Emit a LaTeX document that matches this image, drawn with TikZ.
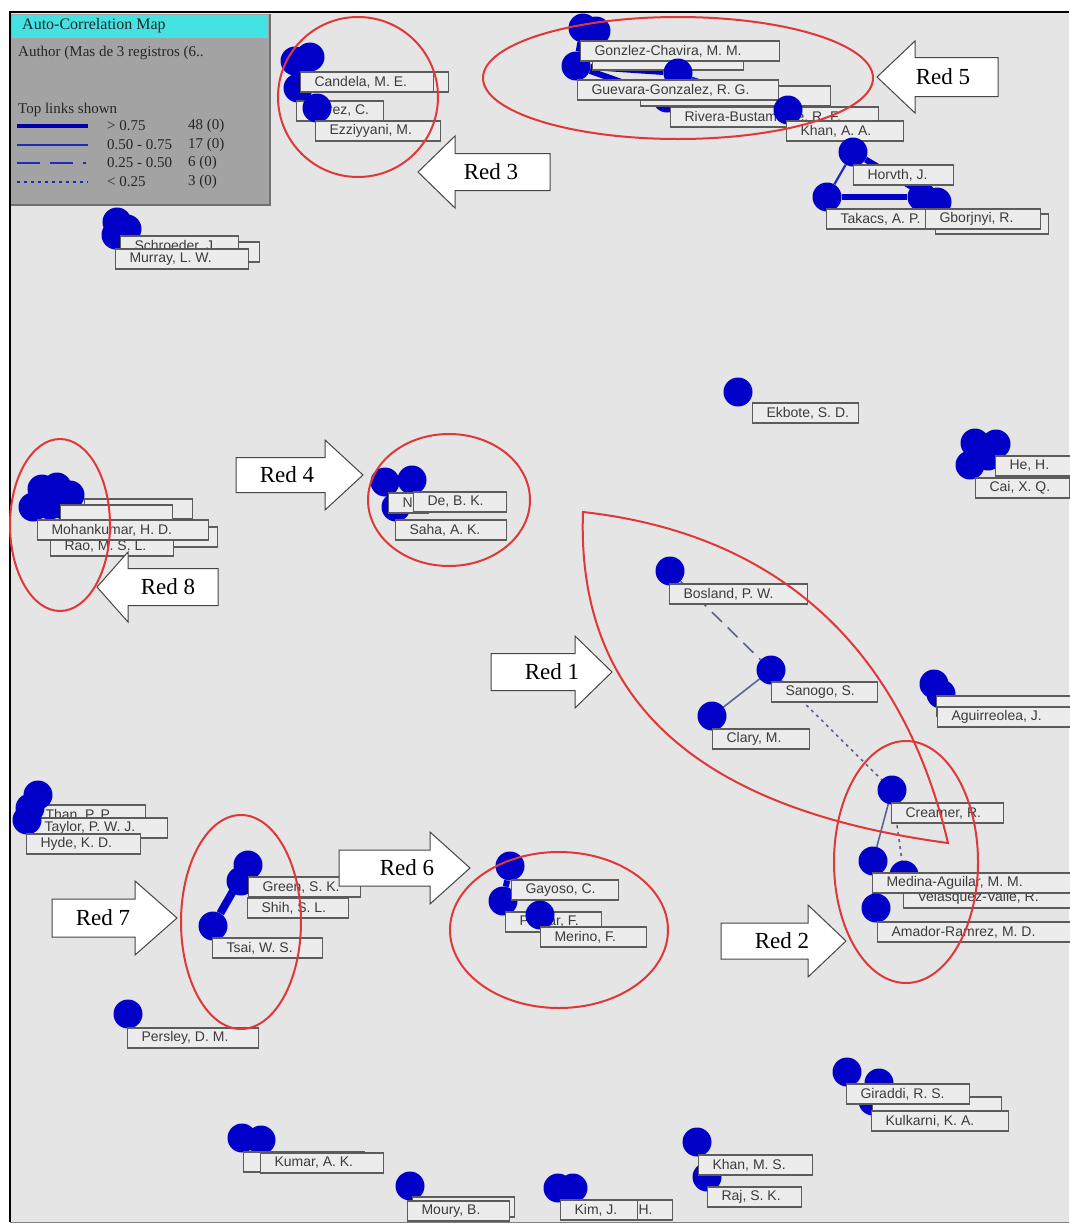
\documentclass[tikz,border=0pt]{standalone}
\usepackage{fontspec}
\setmainfont{Liberation Serif}
\newfontfamily\labsans{Liberation Sans}
\usetikzlibrary{calc}
\pgfdeclarelayer{bg}
\pgfdeclarelayer{links}
\pgfsetlayers{bg,links,main}

\definecolor{plotbg}{HTML}{E5E5E5}
\definecolor{boxfill}{HTML}{ECECEC}
\definecolor{boxgray}{HTML}{5C5C5C}
\definecolor{labtext}{HTML}{3C3C3C}
\definecolor{nodeblue}{HTML}{0000C8}
\definecolor{linkblue}{HTML}{1E2EB4}
\definecolor{weaklink}{HTML}{5A6490}
\definecolor{redline}{HTML}{E03838}
\definecolor{legendgray}{HTML}{A3A3A3}
\definecolor{legendedge}{HTML}{707070}
\definecolor{titlecyan}{HTML}{44E2E2}
\definecolor{arrowedge}{HTML}{454545}

% author label box: left edge, vertical centre, width, text
\newcommand\lbl[5]{\node[lab,minimum width=#4pt] (#1) at (#2,#3) {\makebox[#4pt][l]{\hspace{14pt}#5}};}
% author node
\newcommand\dotn[3]{\node[bnode] (#1) at (#2,#3) {};}
% block arrow: name, far end x, head base x, tip x, centre y, half body, half head, text x, text
\newcommand\blockarrow[9]{%
  \draw[blockarr] ({#2},{#5-#6}) -- ({#3},{#5-#6}) -- ({#3},{#5-#7}) -- ({#4},{#5})
    -- ({#3},{#5+#7}) -- ({#3},{#5+#6}) -- ({#2},{#5+#6}) -- cycle;
  \node[redtxt] (#1) at (#8,#5) {#9};}

\begin{document}
\begin{tikzpicture}[x=1pt,y=-1pt,
  lab/.style={draw=boxgray,fill=boxfill,line width=1.1pt,minimum height=20pt,
    inner sep=0pt,anchor=west,text=labtext,font=\labsans\fontsize{14}{16}\selectfont},
  bnode/.style={circle,fill=nodeblue,minimum size=29pt,inner sep=0pt},
  lkA/.style={nodeblue,line width=6pt},
  lkB/.style={linkblue,line width=2.2pt},
  lkC/.style={weaklink,line width=1.6pt,dash pattern=on 14pt off 8pt},
  lkD/.style={weaklink,line width=1.6pt,dash pattern=on 3pt off 4pt},
  lkthin/.style={weaklink,line width=1.6pt},
  redshape/.style={redline,line width=2pt},
  blockarr/.style={draw=arrowedge,fill=white,line width=1pt},
  redtxt/.style={font=\fontsize{23}{26}\selectfont,text=black,inner sep=0pt},
  legtxt/.style={font=\fontsize{15}{17}\selectfont,text=black!85,inner sep=0pt,anchor=west}]

\useasboundingbox (0,0) rectangle (1069,1224);

% ---------- canvas and frame ----------
\begin{pgfonlayer}{bg}
  \fill[white] (0,0) rectangle (1069,1224);
  \fill[plotbg] (10,12) rectangle (1069,1222);
  \draw[black,line width=2.2pt] (10,1222) -- (10,12) -- (1069,12);
  \draw[gray,line width=1pt] (10,1222) -- (1069,1222);
\end{pgfonlayer}

% ---------- Red 3 group ----------
\dotn{ca1}{295}{61} \dotn{ca2}{310}{57} \dotn{ca3}{298}{88}
\lbl{candB}{330}{82}{118}{}
\lbl{candela}{300}{82}{133}{Candela, M. E.}
\lbl{prez}{296}{111}{87}{\hspace{8pt}Prez, C.}
\dotn{ca4}{317}{108}
\lbl{ezz}{315}{131}{125}{Ezziyyani, M.}

% ---------- Red 5 group ----------
\dotn{g1}{583}{28} \dotn{g1b}{596}{31} \dotn{g2}{576}{66}
\lbl{torresB}{592}{60}{151}{}
\lbl{gonz}{580}{51}{199}{Gonzlez-Chavira, M. M.}
\dotn{g3}{678}{73} \dotn{g4}{667}{98}
\lbl{rojasB}{640}{96}{190}{}
\lbl{guev}{577}{90}{201}{Guevara-Gonzalez, R. G.}
\lbl{rivera}{670}{117}{208}{Rivera-Bustamante, R. F.}
\dotn{g5}{788}{110}
\lbl{khanaa}{786}{131}{117}{Khan, A. A.}
\begin{pgfonlayer}{links}
  \draw[lkA] (g1) -- (g2);
  \draw[lkA] (g2) -- (g3);
  \draw[lkA] (g2) -- (g4);
  \draw[lkB] (g3) -- (g5);
\end{pgfonlayer}

% ---------- Horvth group ----------
\dotn{h1}{853}{152} \dotn{h2}{827}{197} \dotn{h3}{922}{197} \dotn{h4}{937}{202}
\begin{pgfonlayer}{links}
  \draw[lkB] (h1) -- (h2);
  \draw[lkA] (h2) -- (h3);
  \draw[lkA] (h1) -- (h4);
\end{pgfonlayer}
\lbl{horv}{853}{175}{100}{Horvth, J.}
\lbl{gborB}{935}{224}{113}{}
\lbl{takacs}{826}{219}{104}{Takacs, A. P.}
\lbl{gbor}{925}{219}{115}{Gborjnyi, R.}

% ---------- Schroeder group ----------
\dotn{s1}{117}{222} \dotn{s2}{127}{229} \dotn{s3}{116}{235}
\lbl{schrB}{150}{252}{109}{}
\lbl{schr}{120}{246}{118}{Schroeder, J.}
\lbl{murray}{115}{259}{133}{Murray, L. W.}

% ---------- Ekbote ----------
\dotn{ek}{738}{392}
\lbl{ekbote}{752}{413}{106}{Ekbote, S. D.}

% ---------- He / Cai ----------
\dotn{hc1}{975}{443} \dotn{hc2}{996}{444} \dotn{hc4}{988}{456} \dotn{hc3}{970}{465}
\lbl{he}{995}{466}{80}{He, H.}
\lbl{cai}{975}{488}{94}{Cai, X. Q.}

% ---------- Red 8 group ----------
\dotn{m1}{42}{489} \dotn{m2}{57}{487} \dotn{m3}{70}{495}
\dotn{m4}{33}{507} \dotn{m5}{50}{505} \dotn{m6}{66}{506}
\lbl{sekB}{84}{509}{108}{}
\lbl{sektwoB}{60}{515}{112}{}
\lbl{mohB}{60}{537}{157}{}
\lbl{rao}{50}{546}{123}{Rao, M. S. L.}
\lbl{mohan}{37}{530}{171}{Mohankumar, H. D.}

% ---------- Red 4 group ----------
\dotn{d1}{385}{482} \dotn{d2}{412}{480} \dotn{d3}{396}{507}
\lbl{nbox}{388}{503}{40}{N}
\lbl{de}{413}{502}{93}{De, B. K.}
\lbl{saha}{395}{530}{111}{Saha, A. K.}

% ---------- Red 1 group ----------
\dotn{bos}{670}{571} \dotn{san}{771}{670} \dotn{cla}{712}{716} \dotn{cre}{892}{790}
\lbl{bosland}{669}{594}{138}{Bosland, P. W.}
\lbl{sanogo}{771}{692}{106}{Sanogo, S.}
\lbl{clary}{712}{739}{97}{Clary, M.}
\lbl{creamer}{891}{813}{112}{Creamer, R.}

% ---------- Aguirreolea ----------
\dotn{ag1}{934}{684} \dotn{ag2}{941}{694}
\lbl{zaiB}{936}{706}{135}{}
\lbl{agui}{937}{717}{135}{Aguirreolea, J.}

% ---------- Red 2 group ----------
\dotn{vel}{904}{875} \dotn{med}{873}{861}
\lbl{velasq}{903}{898}{170}{Velasquez-Valle, R.}
\lbl{medina}{872}{883}{200}{Medina-Aguilar, M. M.}
\dotn{ama}{876}{908}
\lbl{amador}{877}{932}{195}{Amador-Ramrez, M. D.}
\begin{pgfonlayer}{links}
  \draw[lkC] (bos) -- (san);
  \draw[lkthin] (san) -- (cla);
  \draw[lkD] (san) -- (cre);
  \draw[lkthin] (cre) -- (med);
  \draw[lkD] (cre) -- (vel);
  \draw[lkthin] (med) -- (ama);
\end{pgfonlayer}

% ---------- Than / Taylor / Hyde ----------
\lbl{than}{30}{815}{115}{\hspace{1pt}Than, P. P.}
\lbl{taylor}{30}{828}{137}{Taylor, P. W. J.}
\dotn{t1}{38}{795} \dotn{t2}{30}{808} \dotn{t3}{27}{820}
\lbl{hyde}{26}{844}{114}{Hyde, K. D.}

% ---------- Red 7 group ----------
\dotn{gr}{248}{865} \dotn{sh}{241}{881} \dotn{ts}{213}{926}
\begin{pgfonlayer}{links}
  \draw[lkA,line width=8pt] (gr) -- (ts);
\end{pgfonlayer}
\lbl{green}{248}{887}{112}{Green, S. K.}
\lbl{shih}{247}{908}{101}{Shih, S. L.}
\lbl{tsai}{212}{948}{110}{Tsai, W. S.}

% ---------- Persley ----------
\dotn{per}{128}{1014}
\lbl{persley}{127}{1038}{131}{Persley, D. M.}

% ---------- Red 6 group ----------
\dotn{gy1}{510}{866} \dotn{gy2}{503}{901}
\begin{pgfonlayer}{links}
  \draw[lkA] (gy1) -- (gy2);
\end{pgfonlayer}
\lbl{gayoso}{511}{890}{107}{Gayoso, C.}
\lbl{pomar}{505}{922}{96}{Pomar, F.}
\dotn{mer}{540}{915}
\lbl{merino}{540}{937}{106}{Merino, F.}

% ---------- Giraddi group ----------
\dotn{gi1}{847}{1072} \dotn{gi2}{879}{1083} \dotn{gi3}{873}{1101}
\lbl{nadB}{872}{1107}{129}{}
\lbl{giraddi}{846}{1094}{123}{Giraddi, R. S.}
\lbl{kulkarni}{871}{1121}{137}{Kulkarni, K. A.}

% ---------- Kumar ----------
\dotn{ku1}{242}{1138} \dotn{ku2}{261}{1140}
\lbl{kumB}{243}{1162}{121}{}
\lbl{kumar}{260}{1163}{123}{Kumar, A. K.}

% ---------- Moury ----------
\dotn{mo}{410}{1186}
\lbl{mouB}{412}{1207}{102}{}
\lbl{moury}{407}{1211}{102}{Moury, B.}

% ---------- Kim ----------
\dotn{ki1}{558}{1188} \dotn{ki2}{573}{1188}
\lbl{kimh}{591}{1210}{81}{\hspace{33pt}H.}
\lbl{kimj}{560}{1210}{77}{Kim, J.}

% ---------- Khan / Raj ----------
\dotn{kh1}{697}{1142} \dotn{kh2}{707}{1177}
\lbl{khanms}{698}{1165}{114}{Khan, M. S.}
\lbl{raj}{707}{1197}{94}{Raj, S. K.}

% ---------- legend panel ----------
\fill[legendgray] (11,14) rectangle (270,205);
\draw[legendedge,line width=1.5pt] (270,14) -- (270,205) -- (11,205);
\fill[titlecyan] (12,15) rectangle (268,38);
\node[legtxt,font=\fontsize{16}{18}\selectfont] (legtitle) at (22,26) {Auto-Correlation Map};
\node[legtxt] (legsub) at (18,53) {Author (Mas de 3 registros (6..};
\node[legtxt] (legtop) at (18,110) {Top links shown};
\coordinate (la1) at (17,126); \coordinate (lb1) at (88,126);
\coordinate (la2) at (17,145); \coordinate (lb2) at (88,145);
\coordinate (la3) at (17,163); \coordinate (lb3) at (88,163);
\coordinate (la4) at (17,182); \coordinate (lb4) at (88,182);
\draw[nodeblue!85!black,line width=4.5pt] (la1) -- (lb1);
\draw[linkblue,line width=2pt] (la2) -- (lb2);
\draw[linkblue,line width=2pt,dash pattern=on 23pt off 10pt on 23pt off 10pt on 3pt off 20pt] (la3) -- (lb3);
\draw[linkblue,line width=1.6pt,dash pattern=on 3pt off 4pt] (la4) -- (lb4);
\node[legtxt] (rng1) at (107,126) {> 0.75};
\node[legtxt] (rng2) at (107,145) {0.50 - 0.75};
\node[legtxt] (rng3) at (107,163) {0.25 - 0.50};
\node[legtxt] (rng4) at (107,182) {< 0.25};
\node[legtxt] (cnt1) at (188,126) {48 (0)};
\node[legtxt] (cnt2) at (188,145) {17 (0)};
\node[legtxt] (cnt3) at (188,163) {6 (0)};
\node[legtxt] (cnt4) at (188,182) {3 (0)};

% ---------- red group outlines ----------
\draw[redshape] (358,97) ellipse [x radius=80pt,y radius=80pt];
\draw[redshape] (678,78) ellipse [x radius=195pt,y radius=61pt];
\draw[redshape] (60,525) ellipse [x radius=50pt,y radius=86pt];
\draw[redshape] (449,500) ellipse [x radius=81pt,y radius=66pt];
\draw[redshape] (583,512) .. controls (790,535) and (905,660) .. (948,843)
  .. controls (740,815) and (575,730) .. (583,512) -- cycle;
\draw[redshape] (906,862) ellipse [x radius=72pt,y radius=121pt];
\draw[redshape] (241,922) ellipse [x radius=60pt,y radius=107pt];
\draw[redshape] (559,930) ellipse [x radius=109pt,y radius=78pt];

% ---------- block arrows ----------
\blockarrow{red3}{550}{455}{418}{172}{18.5}{36}{491}{Red 3}
\blockarrow{red5}{998}{915}{877}{77}{19.5}{36}{943}{Red 5}
\blockarrow{red4}{236}{325}{363}{475}{17.5}{35}{287}{Red 4}
\blockarrow{red8}{218}{128}{97}{587}{18.5}{35}{168}{Red 8}
\blockarrow{red1}{491}{575}{612}{672}{18.5}{36}{552}{Red 1}
\blockarrow{red7}{52}{135}{177}{918}{19}{37}{103}{Red 7}
\blockarrow{red6}{339}{430}{470}{868}{18}{36}{407}{Red 6}
\blockarrow{red2}{721}{808}{846}{941}{18}{36}{782}{Red 2}

\end{tikzpicture}
\end{document}
